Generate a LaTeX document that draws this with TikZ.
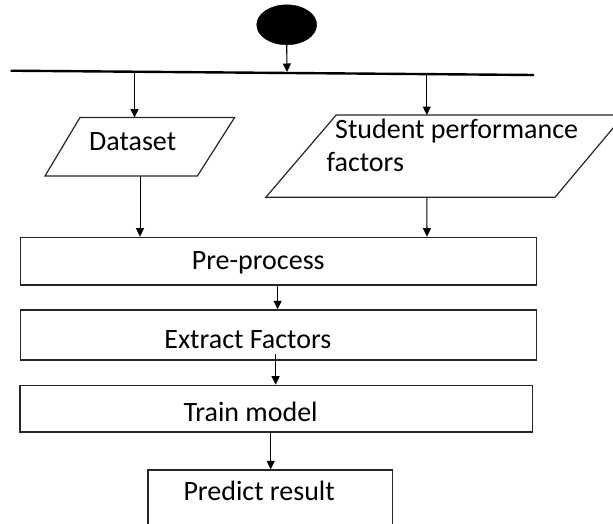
\documentclass[tikz,border=0pt]{standalone}
\usepackage{fontspec}
\setmainfont{Carlito}
\usetikzlibrary{arrows.meta,shapes.geometric}
\begin{document}
\begin{tikzpicture}[x=1pt,y=-1pt,
  lbl/.style={anchor=base west,inner sep=0pt,font=\fontsize{28}{33}\selectfont},
  box/.style={draw=black!85,line width=1.5pt,inner sep=0pt,anchor=north west},
  shp/.style={draw=black!85,line width=1.2pt,line join=miter},
  arr/.style={draw=black,line width=1.1pt,-{Triangle[length=8.5pt,width=8pt]}}]
\path[use as bounding box] (0,0) rectangle (613,523);
% start node
\node[ellipse,fill=black,draw=black,minimum width=60pt,minimum height=40pt,inner sep=0pt] (start) at (286.7,24.8) {};
% bar
\coordinate (barL) at (10.7,70.7);
\coordinate (barR) at (534,75);
\draw[line width=2.4pt] (barL) -- (barR);
\coordinate (b0) at (287,72);
\coordinate (b1) at (134.5,72.5);
\coordinate (b2) at (426.8,74.5);
% parallelograms
\draw[shp] (80,117.5) -- (234.6,117.5) -- (197.4,176) -- (45,176) -- cycle;
\coordinate (dsT) at (134.5,117.5);
\coordinate (dsB) at (140,176);
\begin{scope}
\clip (0,0) rectangle (613,523);
\draw[shp] (336.2,115) -- (624,115) -- (555,197.3) -- (265.8,197.3) -- cycle;
\node[box,minimum width=244.4pt,minimum height=62pt] (pred) at (147.3,469.3) {};
\end{scope}
\coordinate (spT) at (426.8,115);
\coordinate (spB) at (426.8,197.3);
% boxes
\node[box,minimum width=516.2pt,minimum height=47.3pt] (pre) at (19.5,236.7) {};
\node[box,minimum width=516.2pt,minimum height=49.7pt] (ext) at (19.5,309.3) {};
\node[box,minimum width=512.7pt,minimum height=46.5pt] (train) at (19,384.7) {};
% labels
\node[lbl] (tds) at (89,150) {Dataset};
\node[lbl] (tsp1) at (335,138.3) {Student performance};
\node[lbl] (tsp2) at (326.4,171.7) {factors};
\node[lbl] (tpre) at (191.6,269.3) {Pre-process};
\node[lbl] (text) at (164.2,348.3) {Extract Factors};
\node[lbl] (ttr) at (183.3,421.7) {Train model};
\node[lbl] (tpr) at (183.3,500) {Predict result};
% connector x positions
\coordinate (x1) at (140,0);
\coordinate (x2) at (427,0);
\coordinate (x3) at (277.6,0);
\coordinate (x4) at (275.6,354);
\coordinate (x5) at (270.7,0);
% connectors
\draw[arr] (start.south) -- (b0);
\draw[arr] (b1) -- (dsT);
\draw[arr] (b2) -- (spT);
\draw[arr,line width=0.6pt] (dsB) -- (x1 |- pre.north);
\draw[arr] (spB) -- (x2 |- pre.north);
\draw[arr] (x3 |- pre.south) -- (x3 |- ext.north);
\draw[arr] (x4) -- (x4 |- train.north);
\draw[arr] (x5 |- train.south) -- (x5 |- pred.north);
\end{tikzpicture}
\end{document}
